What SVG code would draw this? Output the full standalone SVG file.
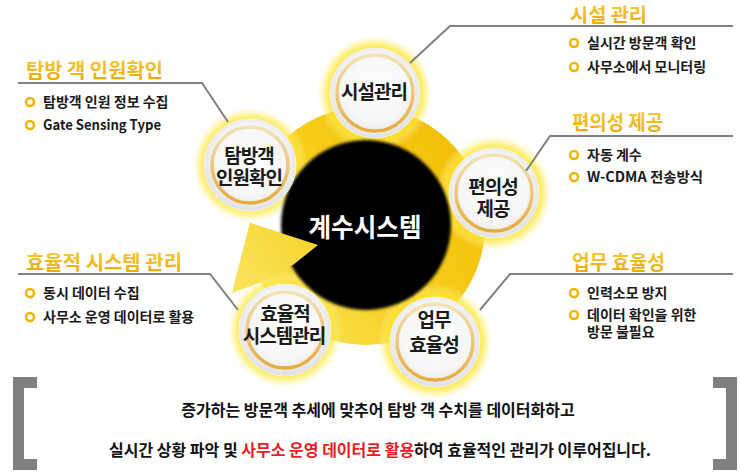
<svg xmlns="http://www.w3.org/2000/svg" width="740" height="472" viewBox="0 0 740 472">
<defs>
<style>
text{font-family:"Noto Sans CJK KR","Noto Sans",sans-serif;font-weight:700}
.ttl{font-size:20px;fill:url(#tg)}
.itm{font-size:14px;fill:#1a1a1a}
.bul{fill:#fff;stroke:#f0b400;stroke-width:2.5}
.lbl{font-size:19px;fill:#1a1a1a;text-anchor:middle;letter-spacing:-1px}
.con{fill:none;stroke:#808080;stroke-width:2}
.sum{font-size:16px;fill:#111;text-anchor:middle}
.red{fill:#e31e24}
.glow{fill:url(#glow)}
.disc{fill:url(#disc);stroke:#f2f2f2;stroke-width:1}
.gring{fill:none;stroke:url(#gring);stroke-width:3.5}
.brk{fill:#808080}
</style>
<linearGradient id="tg" x1="0" y1="0" x2="0" y2="1">
<stop offset="0" stop-color="#f9d040"/>
<stop offset="1" stop-color="#eca200"/>
</linearGradient>
<linearGradient id="ringg" gradientUnits="userSpaceOnUse" x1="240" y1="300" x2="480" y2="120">
<stop offset="0" stop-color="#f8e45e"/>
<stop offset="0.45" stop-color="#f6cf1c"/>
<stop offset="1" stop-color="#f1bb06"/>
</linearGradient>
<radialGradient id="glow" cx="0.5" cy="0.5" r="0.5">
<stop offset="0.72" stop-color="#ffe000" stop-opacity="1"/>
<stop offset="0.86" stop-color="#ffea50" stop-opacity="0.6"/>
<stop offset="1" stop-color="#fff6b0" stop-opacity="0"/>
</radialGradient>
<radialGradient id="disc" cx="0.5" cy="0.45" r="0.55">
<stop offset="0" stop-color="#ffffff"/>
<stop offset="0.7" stop-color="#f6f6f6"/>
<stop offset="1" stop-color="#e0e0e0"/>
</radialGradient>
<linearGradient id="gring" x1="0" y1="0" x2="0" y2="1">
<stop offset="0" stop-color="#f3e2b8"/>
<stop offset="1" stop-color="#e6ab3a"/>
</linearGradient>
<filter id="soft" x="-20%" y="-20%" width="140%" height="140%">
<feGaussianBlur stdDeviation="1.5"/>
</filter>
</defs>
<rect x="0" y="0" width="740" height="472" fill="#fff"/>

<g id="cycle">
<path d="M268.5,157.7 A119,119 0 1,1 260.9,281.9 L232,293 L250,223 L318,245 L293.6,264.5 A82,82 0 1,0 298.8,179 Z" fill="url(#ringg)"/>
<g id="glows">
<circle class="glow" cx="375" cy="93" r="58"/>
<circle class="glow" cx="250" cy="165" r="58"/>
<circle class="glow" cx="494" cy="193" r="58"/>
<circle class="glow" cx="285" cy="330" r="58"/>
<circle class="glow" cx="435" cy="342" r="58"/>
</g>
<circle cx="366" cy="225" r="85" fill="#000" filter="url(#soft)"/>
<polygon points="260.9,281.9 232,293 250,223 318,245 293.6,264.5" fill="url(#ringg)"/>
<text x="365" y="237" font-size="26" fill="#fff" text-anchor="middle" textLength="113" lengthAdjust="spacingAndGlyphs">계수시스템</text>
</g>

<g id="node-facility">
<circle class="disc" cx="375" cy="93" r="45"/>
<circle class="gring" cx="375" cy="93" r="38"/>
<text class="lbl" x="374" y="99">시설관리</text>
</g>

<g id="node-visitor">
<circle class="disc" cx="250" cy="165" r="46"/>
<circle class="gring" cx="250" cy="165" r="38"/>
<text class="lbl" x="249" y="163">탐방객<tspan x="249" dy="22">인원확인</tspan></text>
</g>

<g id="node-convenience">
<circle class="disc" cx="494" cy="193" r="45"/>
<circle class="gring" cx="494" cy="193" r="38"/>
<text class="lbl" x="493" y="194">편의성<tspan x="493" dy="22">제공</tspan></text>
</g>

<g id="node-system">
<circle class="disc" cx="285" cy="330" r="46"/>
<circle class="gring" cx="285" cy="330" r="38"/>
<text class="lbl" x="285" y="321">효율적<tspan x="284" dy="22">시스템관리</tspan></text>
</g>

<g id="node-work">
<circle class="disc" cx="435" cy="342" r="45"/>
<circle class="gring" cx="435" cy="342" r="38"/>
<text class="lbl" x="434" y="327">업무<tspan x="434" dy="25">효율성</tspan></text>
</g>

<g id="connectors">
<polyline class="con" points="18,83 202,83 228,122"/>
<polyline class="con" points="18,274 210,274 238,310"/>
<polyline class="con" points="733,26 450,26 410,63"/>
<polyline class="con" points="733,136 550,136 526,171"/>
<polyline class="con" points="733,274 510,274 480,310"/>
</g>

<g id="label-visitor">
<text class="ttl" x="26" y="78" textLength="137" lengthAdjust="spacingAndGlyphs">탐방 객 인원확인</text>
<circle class="bul" cx="30" cy="102" r="4"/>
<text class="itm" x="43" y="107">탐방객 인원 정보 수집</text>
<circle class="bul" cx="30" cy="125" r="4"/>
<text class="itm" x="43" y="130" textLength="118" lengthAdjust="spacingAndGlyphs">Gate Sensing Type</text>
</g>

<g id="label-system">
<text class="ttl" x="26" y="270" textLength="156" lengthAdjust="spacingAndGlyphs">효율적 시스템 관리</text>
<circle class="bul" cx="30" cy="293" r="4"/>
<text class="itm" x="43" y="298">동시 데이터 수집</text>
<circle class="bul" cx="30" cy="317" r="4"/>
<text class="itm" x="43" y="322">사무소 운영 데이터로 활용</text>
</g>

<g id="label-facility">
<text class="ttl" x="570" y="22" textLength="77" lengthAdjust="spacingAndGlyphs" style="font-size:19px">시설 관리</text>
<circle class="bul" cx="574" cy="43" r="4"/>
<text class="itm" x="587" y="48">실시간 방문객 확인</text>
<circle class="bul" cx="574" cy="67" r="4"/>
<text class="itm" x="587" y="72">사무소에서 모니터링</text>
</g>

<g id="label-convenience">
<text class="ttl" x="572" y="130" textLength="91" lengthAdjust="spacingAndGlyphs">편의성 제공</text>
<circle class="bul" cx="574" cy="155" r="4"/>
<text class="itm" x="587" y="160">자동 계수</text>
<circle class="bul" cx="574" cy="177" r="4"/>
<text class="itm" x="587" y="182" textLength="116" lengthAdjust="spacingAndGlyphs">W-CDMA 전송방식</text>
</g>

<g id="label-work">
<text class="ttl" x="572" y="270" textLength="93" lengthAdjust="spacingAndGlyphs">업무 효율성</text>
<circle class="bul" cx="574" cy="293" r="4"/>
<text class="itm" x="587" y="298">인력소모 방지</text>
<circle class="bul" cx="574" cy="315" r="4"/>
<text class="itm" x="587" y="320">데이터 확인을 위한<tspan x="587" dy="17">방문 불필요</tspan></text>
</g>

<g id="summary">
<path class="brk" d="M13,377 H37 V388 H24 V459 H37 V470 H13 Z"/>
<path class="brk" d="M737,377 H713 V388 H726 V459 H713 V470 H737 Z"/>
<text class="sum" x="378" y="416">증가하는 방문객 추세에 맞추어 탐방 객 수치를 데이터화하고</text>
<text class="sum" x="380" y="456">실시간 상황 파악 및 <tspan class="red">사무소 운영 데이터로 활용</tspan>하여 효율적인 관리가 이루어집니다.</text>
</g>
</svg>
